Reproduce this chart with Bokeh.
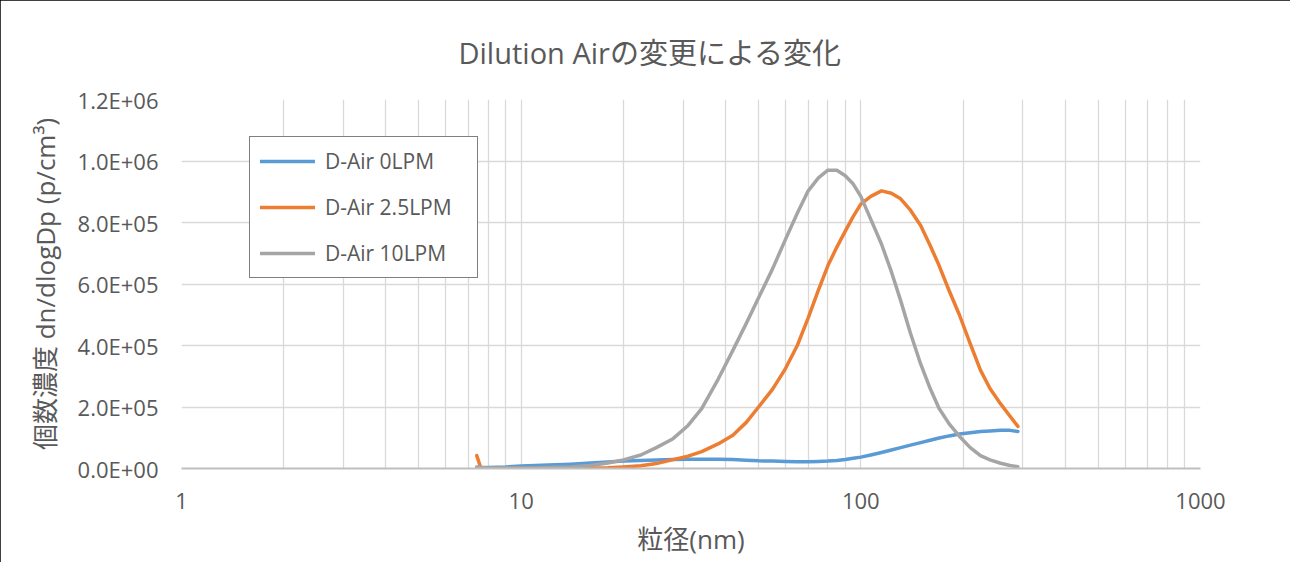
from bokeh.plotting import figure
from bokeh.models import (FixedTicker, CustomJSTickFormatter, Legend, LegendItem,
                          ColumnDataSource)
from bokeh.embed import file_html
from bokeh.resources import INLINE

# Particle diameter (nm)
diam = [7.4, 7.6, 8, 9, 10, 11, 12, 14, 16, 18, 20, 22.5, 25, 28, 31, 34, 38, 42, 46, 50,
        55, 60, 65, 70, 75, 80, 85, 90, 95, 100, 107, 115, 123, 131, 140, 150, 160, 170,
        182, 195, 210, 225, 240, 258, 275, 290]

# dn/dlogDp (p/cm3)
air_0lpm = [3e3, 3e3, 3e3, 5e3, 8e3, 10e3, 11e3, 14e3, 18e3, 21e3, 24e3, 26e3, 28e3, 29e3,
            30e3, 30e3, 30e3, 29e3, 27e3, 25e3, 24e3, 23e3, 22e3, 22e3, 23e3, 24e3, 26e3,
            29e3, 33e3, 37e3, 44e3, 52e3, 60e3, 68e3, 76e3, 84e3, 92e3, 99e3, 106e3, 112e3,
            116e3, 120e3, 122e3, 124e3, 124e3, 120e3]
air_2_5lpm = [42e3, 3e3, 1e3, 500, 500, 500, 500, 1e3, 1.5e3, 2.5e3, 5e3, 9e3, 16e3, 29e3,
              40e3, 55e3, 80e3, 108e3, 150e3, 200e3, 258e3, 325e3, 400e3, 490e3, 580e3,
              660e3, 720e3, 772e3, 820e3, 860e3, 885e3, 903e3, 895e3, 877e3, 840e3, 790e3,
              725e3, 660e3, 578e3, 500e3, 405e3, 320e3, 260e3, 210e3, 170e3, 137e3]
air_10lpm = [5e3, 3e3, 2e3, 2e3, 2e3, 2e3, 3e3, 5e3, 10e3, 18e3, 28e3, 44e3, 68e3, 97e3,
             140e3, 195e3, 290e3, 384e3, 472e3, 555e3, 650e3, 745e3, 830e3, 903e3, 945e3,
             970e3, 970e3, 952e3, 925e3, 885e3, 810e3, 730e3, 640e3, 546e3, 440e3, 340e3,
             260e3, 195e3, 145e3, 105e3, 68e3, 42e3, 28e3, 17e3, 10e3, 6e3]

series_names = ["D-Air 0LPM", "D-Air 2.5LPM", "D-Air 10LPM"]
series_colors = ["#5b9bd5", "#ed7d31", "#a5a5a5"]

x_major = [1, 10, 100, 1000]
x_minor = [m * d for d in (1, 10, 100) for m in range(2, 10)]
y_ticks = [0, 2e5, 4e5, 6e5, 8e5, 1.0e6, 1.2e6]

title_text = "Dilution Airの変更による変化"
x_label = "粒径(nm)"
y_label = "個数濃度 dn/dlogDp (p/cm³)"

FONT = "'Open Sans', 'Noto Sans CJK JP'"
TXT = "#595959"

p = figure(width=1290, height=562, x_axis_type="log", x_range=(1, 1000), y_range=(0, 1.2e6),
           output_backend="svg", toolbar_location=None,
           min_border_left=181, min_border_right=90, min_border_top=99, min_border_bottom=94)
p.outline_line_color = None
p.background_fill_color = "white"
p.border_fill_color = "white"
p.styles = {"outline": "2px solid black", "outline-offset": "-2px"}

p.title.text = title_text
p.title.align = "left"
p.title.offset = 277
p.title.standoff = 56
p.title.text_font = FONT
p.title.text_font_size = "29px"
p.title.text_font_style = "normal"
p.title.text_color = TXT

src = ColumnDataSource(dict(d=diam, a=air_0lpm, b=air_2_5lpm, c=air_10lpm))
renderers = []
for col, color in zip(["a", "b", "c"], series_colors):
    r = p.line("d", col, source=src, line_color=color, line_width=3.5, line_cap="round",
               line_join="round")
    renderers.append(r)

# axes
p.xaxis.ticker = FixedTicker(ticks=x_major, minor_ticks=x_minor)
p.xaxis.formatter = CustomJSTickFormatter(code="return tick.toFixed(0);")
p.yaxis.ticker = FixedTicker(ticks=y_ticks)
p.yaxis.formatter = CustomJSTickFormatter(code="""
var s = tick.toExponential(1).toUpperCase();
return s.replace(/E([+-])(\\d)$/, 'E$10$2');
""")
for ax in (p.xaxis, p.yaxis):
    ax.major_tick_line_color = None
    ax.minor_tick_line_color = None
    ax.major_tick_out = 0
    ax.major_tick_in = 0
    ax.minor_tick_out = 0
    ax.minor_tick_in = 0
    ax.major_label_text_font = FONT
    ax.major_label_text_font_size = "22px"
    ax.major_label_text_color = TXT
    ax.axis_label_text_font = FONT
    ax.axis_label_text_font_size = "26px"
    ax.axis_label_text_color = TXT
    ax.axis_label_text_font_style = "normal"
p.xaxis.axis_line_color = "#bfbfbf"
p.xaxis.axis_line_width = 2
p.yaxis.axis_line_color = None
p.xaxis.major_label_standoff = 24
p.yaxis.major_label_standoff = 23
p.xaxis.axis_label_standoff = 9
p.yaxis.axis_label_standoff = 12
p.xaxis.axis_label = x_label
p.yaxis.axis_label = y_label

p.xgrid.grid_line_color = "#d9d9d9"
p.xgrid.grid_line_width = 1.3
p.xgrid.minor_grid_line_color = "#d9d9d9"
p.xgrid.minor_grid_line_width = 1.3
p.ygrid.grid_line_color = "#d9d9d9"
p.ygrid.grid_line_width = 1.3

legend = Legend(items=[LegendItem(label=n, renderers=[r]) for n, r in zip(series_names, renderers)],
                location=(68, 190), orientation="vertical")
legend.border_line_color = "black"
legend.border_line_width = 1.5
legend.background_fill_color = "white"
legend.background_fill_alpha = 1
legend.label_text_font = FONT
legend.label_text_font_size = "21px"
legend.label_text_color = TXT
legend.glyph_width = 55
legend.glyph_height = 20
legend.label_height = 20
legend.label_width = 142
legend.spacing = 18
legend.padding = 10
legend.margin = 0
legend.label_standoff = 10
p.add_layout(legend, "center")

open("out.html", "w").write(file_html(p, INLINE))
